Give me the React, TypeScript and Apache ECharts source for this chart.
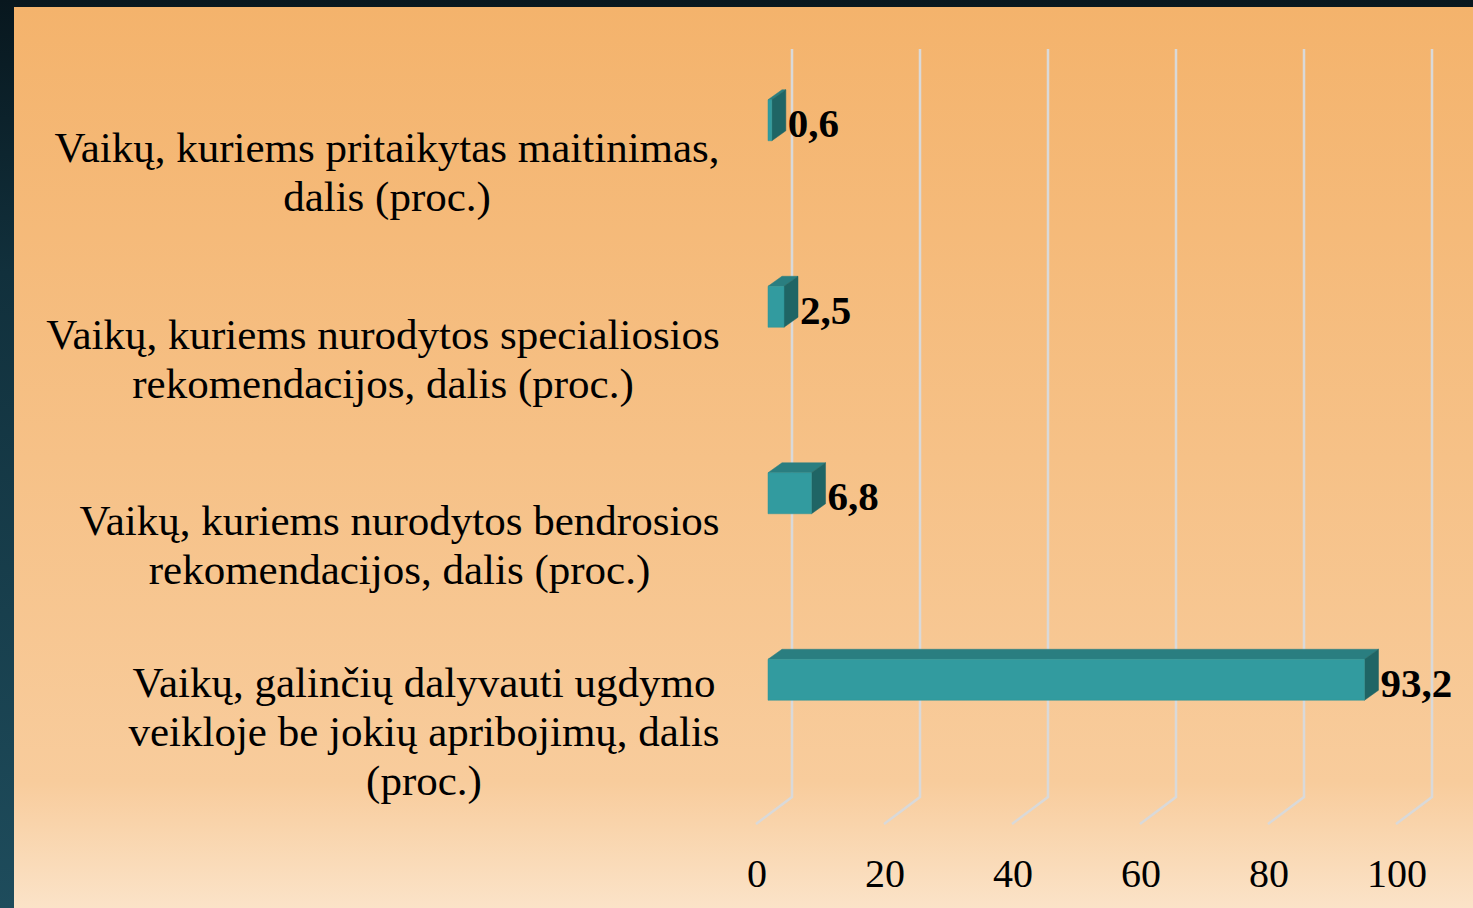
import React, { useEffect, useRef } from "react";
import * as echarts from "echarts";

const categories = [
  "Vaikų, kuriems pritaikytas maitinimas,\ndalis (proc.)",
  "Vaikų, kuriems nurodytos specialiosios\nrekomendacijos, dalis (proc.)",
  "Vaikų, kuriems nurodytos bendrosios\nrekomendacijos, dalis (proc.)",
  "Vaikų, galinčių dalyvauti ugdymo\nveikloje be jokių apribojimų, dalis\n(proc.)",
];
const values = [0.6, 2.5, 6.8, 93.2];
const xTicks = [0, 20, 40, 60, 80, 100];

const FONT = '"Liberation Serif", "Times New Roman", serif';

function measure(text: string, font: string): number {
  const c = document.createElement("canvas").getContext("2d");
  if (!c) return text.length * 18;
  c.font = font;
  return c.measureText(text).width;
}

export default function App() {
  const ref = useRef<HTMLDivElement>(null);
  useEffect(() => {
    if (!ref.current) return;
    const chart = echarts.init(ref.current, null, { renderer: "svg" });
    const labelFont = `43px ${FONT}`;
    const rich: any = {};
    categories.forEach((c, i) => {
      const w = Math.max(...c.split("\n").map((l) => measure(l, labelFont)));
      rich["l" + i] = {
        width: Math.ceil(w) + 2,
        align: "center",
        fontSize: 43,
        lineHeight: 49,
        fontFamily: FONT,
        color: "#000",
      };
    });

    const option: any = {
      animation: false,
      backgroundColor: {
        type: "linear",
        x: 0,
        y: 0,
        x2: 0,
        y2: 1,
        colorStops: [
          { offset: 0, color: "#08171e" },
          { offset: 0.3, color: "#11303c" },
          { offset: 1, color: "#1e4c5c" },
        ],
      },
      graphic: [
        {
          type: "rect",
          z: -100,
          shape: { x: 14, y: 7, width: 1473 - 14, height: 908 - 7 },
          style: {
            fill: {
              type: "linear",
              x: 0,
              y: 0,
              x2: 0,
              y2: 1,
              colorStops: [
                { offset: 0, color: "#f4b36c" },
                { offset: 0.5, color: "#f6c187" },
                { offset: 0.86, color: "#f8cc9c" },
                { offset: 1, color: "#fbe3c8" },
              ],
            },
          },
        },
      ],
      grid: { left: 757, top: 79, width: 640, height: 746 },
      xAxis: {
        type: "value",
        min: 0,
        max: 100,
        interval: 20,
        axisLine: { show: false },
        axisTick: { show: false },
        splitLine: { show: false },
        axisLabel: {
          margin: 28,
          fontSize: 40,
          fontFamily: FONT,
          color: "#000",
        },
      },
      yAxis: {
        type: "category",
        inverse: true,
        data: categories,
        axisLine: { show: false },
        axisTick: { show: false },
        splitLine: { show: false },
        axisLabel: {
          margin: 36,
          align: "right",
          formatter: (val: string, idx: number) =>
            val
              .split("\n")
              .map((l) => `{l${idx}|${l}}`)
              .join("\n"),
          rich,
        },
      },
      series: [
        {
          type: "custom",
          name: "grid",
          z: 1,
          clip: false,
          silent: true,
          data: xTicks.map((t) => [t, 0]),
          renderItem: (params: any, api: any) => {
            const cs = params.coordSys;
            const x = api.coord([api.value(0), 0])[0];
            const top = cs.y - 30;
            const bBack = cs.y + cs.height - 28;
            const bFront = cs.y + cs.height - 1;
            return {
              type: "polyline",
              shape: {
                points: [
                  [x + 35, top],
                  [x + 35, bBack],
                  [x - 1, bFront],
                ],
              },
              style: { stroke: "#d9d9d9", lineWidth: 2.5, fill: null },
            };
          },
        },
        {
          type: "custom",
          name: "bars",
          z: 3,
          clip: false,
          data: values.map((v, i) => [v, i]),
          renderItem: (params: any, api: any) => {
            const v = api.value(0);
            const idx = api.value(1);
            const p0 = api.coord([0, idx]);
            const p1 = api.coord([v, idx]);
            const xf0 = p0[0] + 11;
            const xf1 = p1[0] + 11;
            const yc = p0[1] - 52;
            const h = 41;
            const top = yc - h / 2;
            const bottom = yc + h / 2;
            const dx = 14;
            const dy = -10;
            const label = v.toFixed(1).replace(".", ",");
            return {
              type: "group",
              children: [
                {
                  type: "polygon",
                  shape: {
                    points: [
                      [xf0, top],
                      [xf1, top],
                      [xf1 + dx, top + dy],
                      [xf0 + dx, top + dy],
                    ],
                  },
                  style: { fill: "#2a7e80", stroke: "#2a7e80", lineWidth: 0.5 },
                },
                {
                  type: "polygon",
                  shape: {
                    points: [
                      [xf1, top],
                      [xf1 + dx, top + dy],
                      [xf1 + dx, bottom + dy],
                      [xf1, bottom],
                    ],
                  },
                  style: { fill: "#1f6565", stroke: "#1f6565", lineWidth: 0.5 },
                },
                {
                  type: "rect",
                  shape: { x: xf0, y: top, width: xf1 - xf0, height: h },
                  style: { fill: "#329b9f", stroke: "#2e9296", lineWidth: 0.5 },
                },
                {
                  type: "text",
                  x: xf1 + dx + 2,
                  y: yc + 3,
                  style: {
                    text: label,
                    fontFamily: FONT,
                    fontWeight: "bold",
                    fontSize: 41,
                    fill: "#000",
                    verticalAlign: "middle",
                    align: "left",
                  },
                },
              ],
            };
          },
        },
      ],
    };
    chart.setOption(option);
    return () => chart.dispose();
  }, []);
  return (
    <div
      ref={ref}
      style={{ position: "fixed", left: 0, top: 0, width: 1473, height: 908 }}
    />
  );
}
